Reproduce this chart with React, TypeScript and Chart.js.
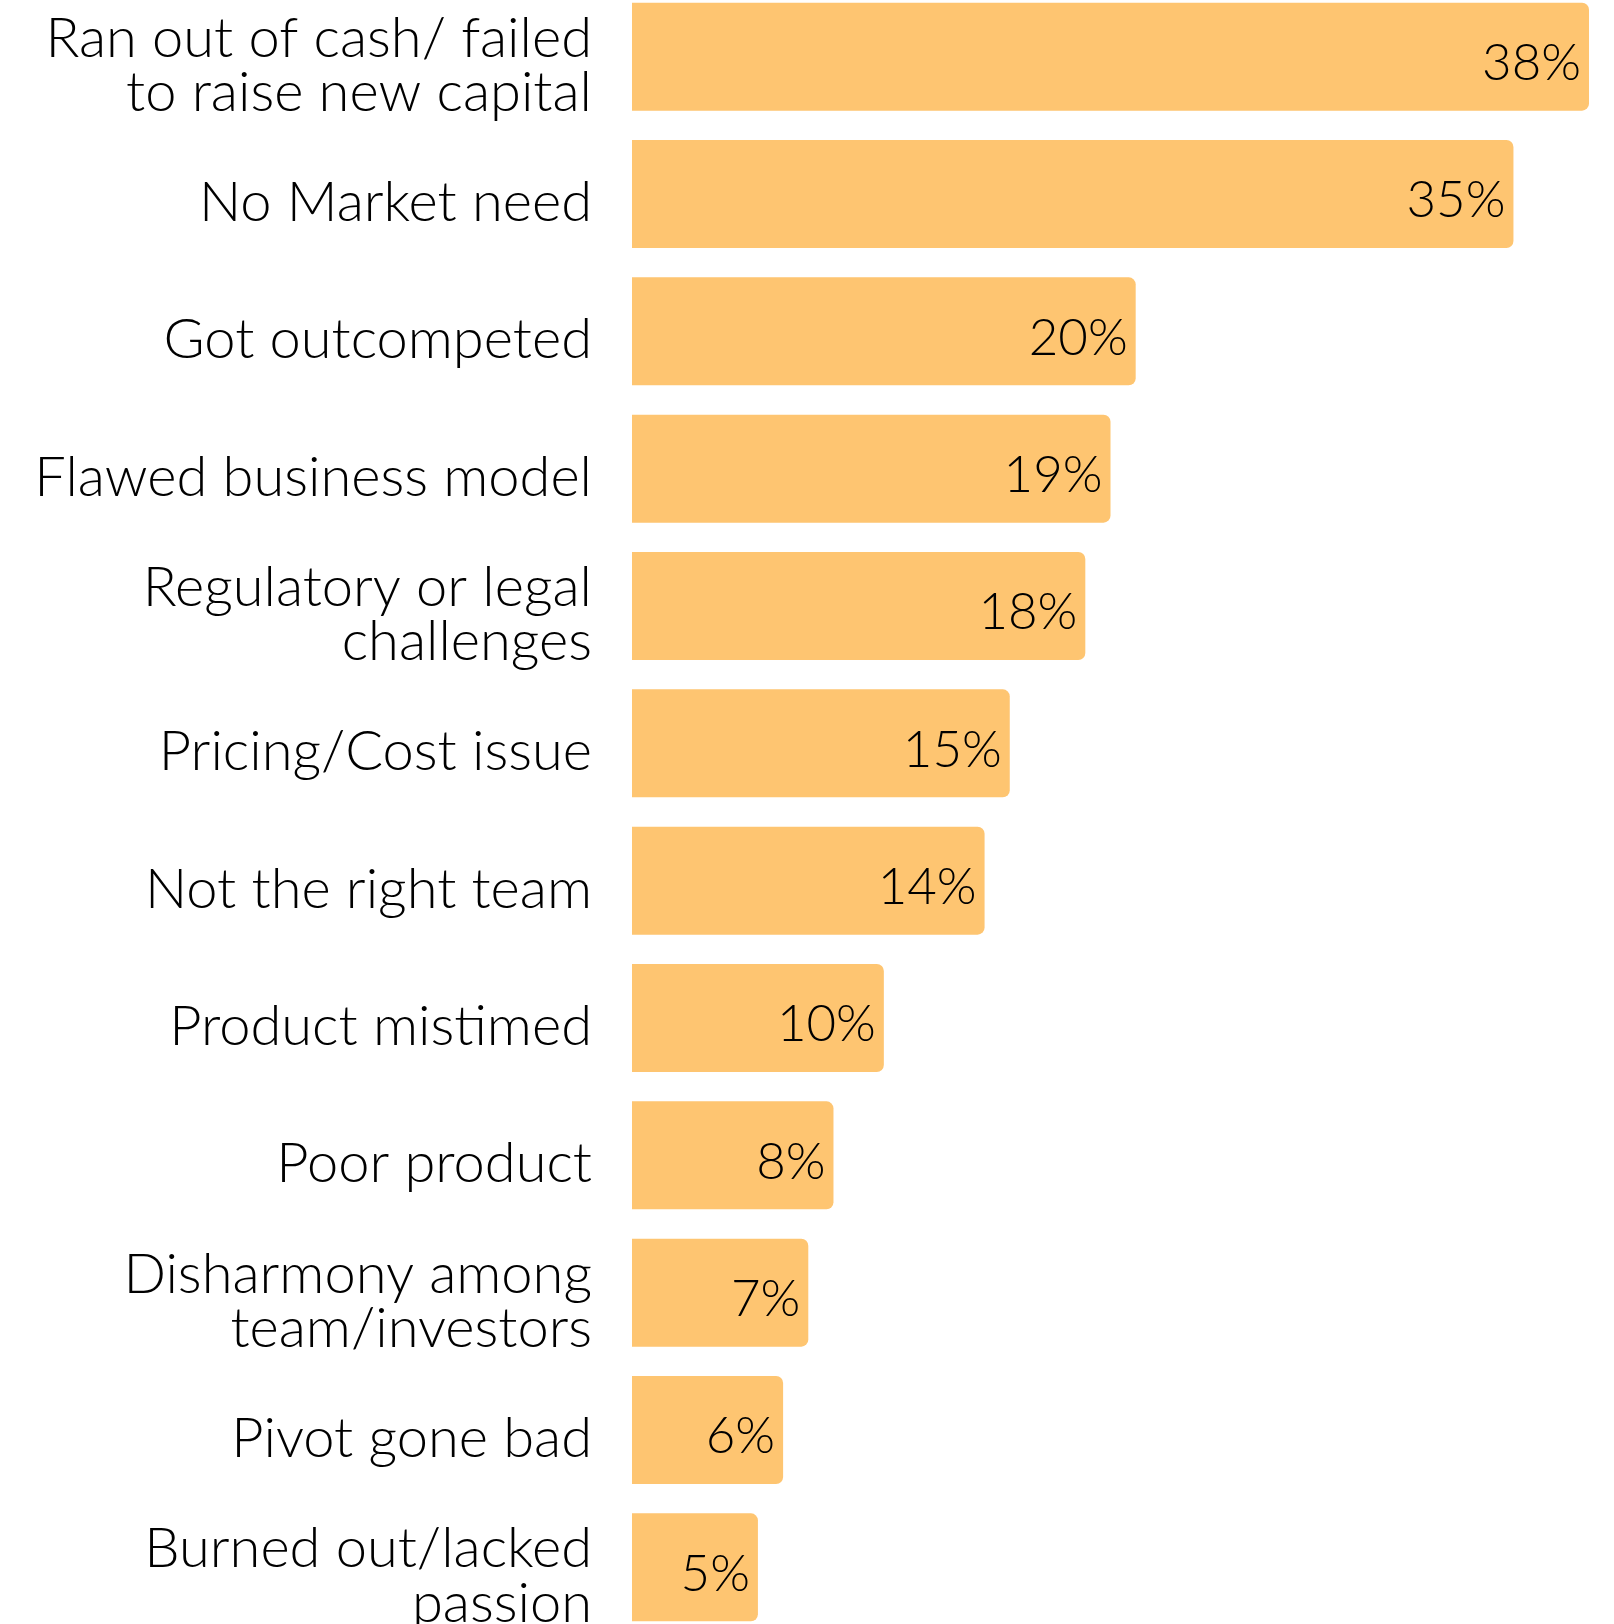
import React, { useEffect, useRef } from "react";
import { Chart, registerables } from "chart.js";

Chart.register(...registerables);

const categories: (string | string[])[] = [
  ["Ran out of cash/ failed", "to raise new capital"],
  "No Market need",
  "Got outcompeted",
  "Flawed business model",
  ["Regulatory or legal", "challenges"],
  "Pricing/Cost issue",
  "Not the right team",
  "Product mistimed",
  "Poor product",
  ["Disharmony among", "team/investors"],
  "Pivot gone bad",
  ["Burned out/lacked", "passion"],
];

const values: number[] = [38, 35, 20, 19, 18, 15, 14, 10, 8, 7, 6, 5];

const BAR_COLOR = "#FEC571";
const FONT = "Lato, 'Open Sans', sans-serif";

const valueLabels = {
  id: "valueLabels",
  afterDatasetsDraw(chart: any) {
    const ctx = chart.ctx;
    const meta = chart.getDatasetMeta(0);
    ctx.save();
    ctx.fillStyle = "#000";
    ctx.font = `300 51px ${FONT}`;
    ctx.textAlign = "right";
    ctx.textBaseline = "middle";
    meta.data.forEach((bar: any, i: number) => {
      ctx.fillText(`${values[i]}%`, bar.x - 8, bar.y + 7);
    });
    ctx.restore();
  },
};

export default function App() {
  const ref = useRef<HTMLCanvasElement>(null);

  useEffect(() => {
    if (!ref.current) return;
    const chart = new Chart(ref.current, {
      type: "bar",
      data: {
        labels: categories,
        datasets: [
          {
            data: values,
            backgroundColor: BAR_COLOR,
            borderRadius: { topRight: 7, bottomRight: 7, topLeft: 0, bottomLeft: 0 },
            borderSkipped: false,
            barPercentage: 0.786,
            categoryPercentage: 1,
          },
        ],
      },
      options: {
        indexAxis: "y",
        responsive: false,
        animation: false,
        layout: { padding: { top: 0, bottom: 0, left: 0, right: 25 } },
        plugins: { legend: { display: false }, tooltip: { enabled: false } },
        scales: {
          x: { display: false, min: 0, max: 38 },
          y: {
            grid: { display: false, drawTicks: false },
            border: { display: false },
            afterFit: (scale: any) => {
              scale.width = 632;
              scale.paddingTop = 0;
              scale.paddingBottom = 0;
            },
            ticks: {
              padding: 40,
              labelOffset: 9,
              color: "#000",
              font: { family: FONT, size: 56, weight: "300", lineHeight: 0.97 },
            },
          },
        },
      },
      plugins: [valueLabels],
    });
    return () => chart.destroy();
  }, []);

  return (
    <div style={{ position: "fixed", left: 0, top: -12, width: 1614, height: 1648, background: "#fff" }}>
      <canvas ref={ref} width={1614} height={1648} style={{ display: "block" }} />
    </div>
  );
}
